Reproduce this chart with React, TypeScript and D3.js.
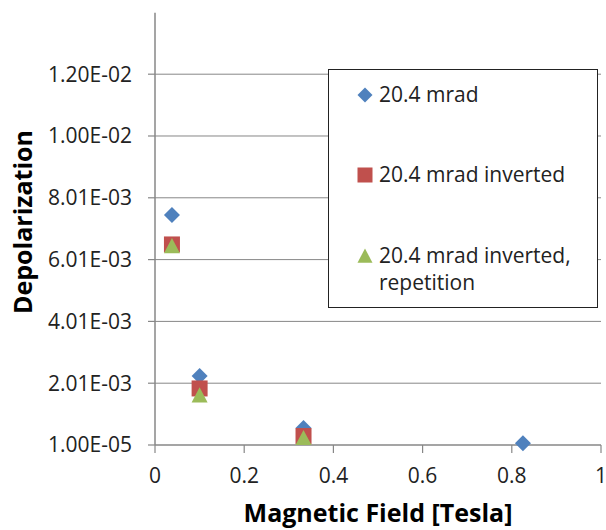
import React from "react";
import * as d3 from "d3";

// Magnetic field [T] and measured depolarization for each run
const fieldA = [0.038, 0.1, 0.333, 0.825];
const depolA = [0.00745, 0.00224, 0.00056, 0.00007];

const fieldB = [0.038, 0.1, 0.333];
const depolB = [0.0065, 0.00184, 0.0003];

const fieldC = [0.038, 0.1, 0.333];
const depolC = [0.00645, 0.00162, 0.00024];

const seriesNames = ["20.4 mrad", "20.4 mrad inverted", "20.4 mrad inverted,"];

const xTicks = [0, 0.2, 0.4, 0.6, 0.8, 1];
const xTickLabels = ["0", "0.2", "0.4", "0.6", "0.8", "1"];
const yTicks = [0.00001, 0.00201, 0.00401, 0.00601, 0.00801, 0.01001, 0.01201];
const yTickLabels = ["1.00E-05", "2.01E-03", "4.01E-03", "6.01E-03", "8.01E-03", "1.00E-02", "1.20E-02"];

const W = 606;
const H = 530;
const left = 155;
const right = 601;
const top = 12.7;
const bottom = 445;

const FONT = "'Open Sans', 'Noto Sans', sans-serif";
const TEXT = "#222";
const GRID = "#878787";

const colors = ["#4F81BD", "#C0504D", "#9BBB59"];

function Marker({ kind, x, y, s }: { kind: number; x: number; y: number; s: number }) {
  const h = s / 2;
  if (kind === 0) {
    return (
      <path
        d={`M${x},${y - h}L${x + h},${y}L${x},${y + h}L${x - h},${y}Z`}
        fill={colors[0]}
      />
    );
  }
  if (kind === 1) {
    return <rect x={x - h} y={y - h} width={s} height={s} fill={colors[1]} />;
  }
  return (
    <path
      d={`M${x},${y - h}L${x + h},${y + h * 0.9}L${x - h},${y + h * 0.9}Z`}
      fill={colors[2]}
    />
  );
}

export default function App() {
  const x = d3.scaleLinear().domain([0, 1]).range([left, right]);
  const y = d3.scaleLinear().domain([0.00001, 0.014]).range([bottom, top]);

  const series = [
    { xs: fieldA, ys: depolA },
    { xs: fieldB, ys: depolB },
    { xs: fieldC, ys: depolC },
  ];

  const legendRows = [95, 175, 256];

  return (
    <svg
      width={W}
      height={H}
      style={{ position: "absolute", left: 0, top: 0, background: "#fff" }}
      fontFamily={FONT}
    >
      {/* horizontal gridlines */}
      {yTicks.map((t, i) =>
        i === 0 ? null : (
          <line key={"g" + i} x1={left} x2={right} y1={y(t)} y2={y(t)} stroke={GRID} strokeWidth={1} />
        )
      )}
      {/* axes */}
      <line x1={left} x2={left} y1={top} y2={bottom} stroke={GRID} strokeWidth={1.5} />
      <line x1={left} x2={right} y1={bottom} y2={bottom} stroke={GRID} strokeWidth={1.5} />
      {yTicks.map((t, i) => (
        <g key={"y" + i}>
          <line x1={left - 7} x2={left} y1={y(t)} y2={y(t)} stroke={GRID} strokeWidth={1.2} />
          <text x={132} y={y(t)} dy="0.35em" textAnchor="end" fontSize={21} fill={TEXT}>
            {yTickLabels[i]}
          </text>
        </g>
      ))}
      {xTicks.map((t, i) => (
        <g key={"x" + i}>
          <line x1={x(t)} x2={x(t)} y1={bottom} y2={bottom + 8} stroke={GRID} strokeWidth={1.2} />
          <text x={x(t)} y={483} textAnchor="middle" fontSize={21} fill={TEXT}>
            {xTickLabels[i]}
          </text>
        </g>
      ))}

      {/* axis titles */}
      <text
        transform={`translate(32,222) rotate(-90)`}
        textAnchor="middle"
        fontSize={25}
        fontWeight="bold"
        fill="#000"
      >
        Depolarization
      </text>
      <text x={(left + right) / 2} y={522} textAnchor="middle" fontSize={25} fontWeight="bold" fill="#000">
        Magnetic Field [Tesla]
      </text>

      {/* data */}
      {series.map((s, k) =>
        s.xs.map((v, i) => <Marker key={k + "-" + i} kind={k} x={x(v)} y={y(s.ys[i])} s={16} />)
      )}

      {/* legend */}
      <rect x={328.5} y={69.5} width={269} height={238} fill="#fff" stroke="#222" strokeWidth={1} />
      {seriesNames.map((n, k) => (
        <g key={"l" + k}>
          <Marker kind={k} x={365} y={legendRows[k]} s={15} />
          <text x={379} y={legendRows[k]} dy="0.35em" fontSize={21} fill={TEXT}>
            {n}
          </text>
        </g>
      ))}
      <text x={379} y={290} fontSize={21} fill={TEXT}>
        repetition
      </text>
    </svg>
  );
}
